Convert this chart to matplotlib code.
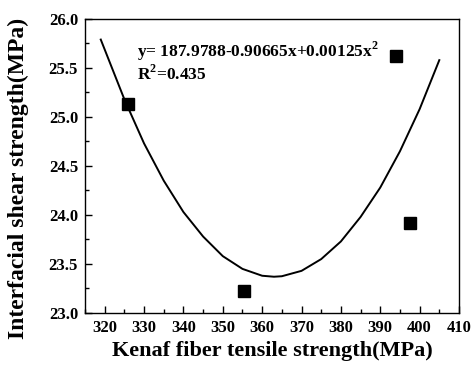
import numpy as np
import matplotlib
matplotlib.use('Agg')
import matplotlib.pyplot as plt
from matplotlib.ticker import MultipleLocator

# measured data points
tensile = [326.0, 355.5, 394.0, 397.5]
ifss = [25.13, 23.22, 25.62, 23.92]

# fitted curve
fit_x = [319, 325, 330, 335, 340, 345, 350, 355, 360, 363, 365, 370,
         375, 380, 385, 390, 395, 400, 405]
fit_y = [25.79, 25.18, 24.73, 24.35, 24.03, 23.78, 23.58, 23.45, 23.38, 23.37,
         23.375, 23.43, 23.55, 23.73, 23.98, 24.28, 24.65, 25.08, 25.58]

eq_text = r'y= 187.9788-0.90665x+0.00125x$^{\mathbf{2}}$'
r2_text = r'R$^{\mathbf{2}}$=0.435'

plt.rcParams['font.family'] = ['Liberation Serif', 'DejaVu Serif']
plt.rcParams['font.weight'] = 'bold'
plt.rcParams['mathtext.fontset'] = 'custom'
plt.rcParams['mathtext.rm'] = 'Liberation Serif:bold'
plt.rcParams['mathtext.bf'] = 'Liberation Serif:bold'

fig = plt.figure(figsize=(4.71, 3.65), dpi=100)
ax = fig.add_axes([0.1805, 0.1425, 0.794, 0.8055])

ax.plot(fit_x, fit_y, color='black', lw=1.4)
ax.plot(tensile, ifss, 's', color='black', ms=8)

ax.set_xlim(315, 410)
ax.set_ylim(23.0, 26.0)
ax.xaxis.set_major_locator(MultipleLocator(10))
ax.xaxis.set_minor_locator(MultipleLocator(5))
ax.yaxis.set_major_locator(MultipleLocator(0.5))
ax.yaxis.set_minor_locator(MultipleLocator(0.25))
ax.yaxis.set_major_formatter(matplotlib.ticker.FormatStrFormatter('%.1f'))

ax.tick_params(which='both', direction='in', top=False, right=False, width=1)
ax.tick_params(which='major', length=5, labelsize=12, pad=5)
ax.tick_params(which='minor', length=3)
for lab in ax.get_xticklabels() + ax.get_yticklabels():
    lab.set_fontweight('bold')
for sp in ax.spines.values():
    sp.set_linewidth(1)

ax.set_xlabel('Kenaf fiber tensile strength(MPa)', fontsize=16, fontweight='bold', labelpad=4)
ax.set_ylabel('Interfacial shear strength(MPa)', fontsize=17, fontweight='bold')
ax.yaxis.set_label_coords(-0.15, 0.456)

ax.text(0.14, 0.871, eq_text, transform=ax.transAxes, fontsize=12.5, fontweight='bold')
ax.text(0.14, 0.793, r2_text, transform=ax.transAxes, fontsize=12.5, fontweight='bold')

fig.savefig('out.png', dpi=100)
